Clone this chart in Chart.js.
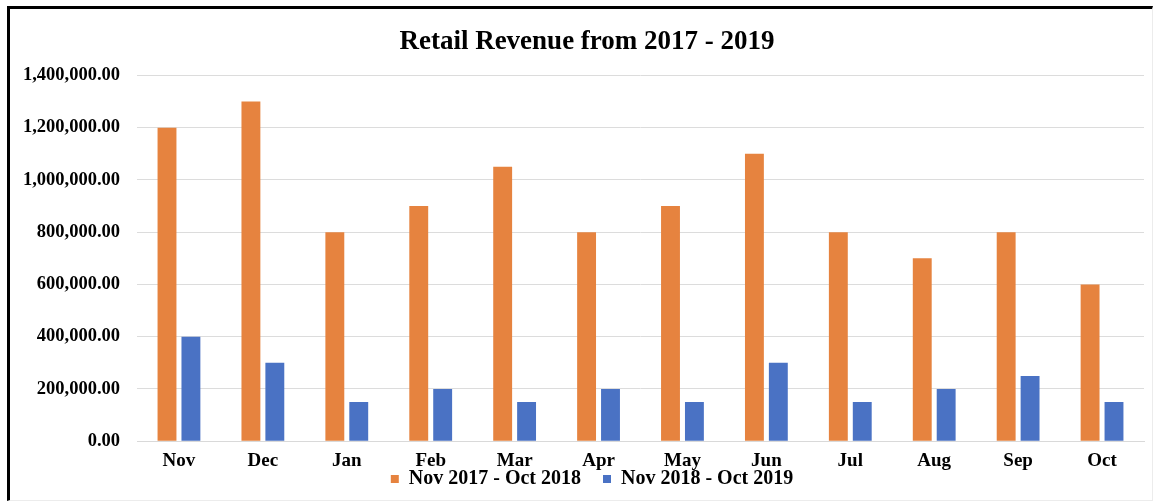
<!DOCTYPE html>
<html>
<head>
<meta charset="utf-8">
<script src="https://cdn.jsdelivr.net/npm/chart.js@4"></script>
<style>
  html, body { margin: 0; padding: 0; background: #fff; overflow: hidden; }
  .frame {
    position: absolute; left: 7px; top: 6px; width: 1142px; height: 491px;
    border-top: 3px solid #000; border-left: 3px solid #000;
    border-right: 1px solid #ececec; border-bottom: 1px solid #ececec;
  }
  .wrap { position: absolute; left: 10px; top: 9px; width: 1149px; height: 488px; }
</style>
</head>
<body>
<div class="frame"></div>
<div class="wrap"><canvas class="retail-revenue"></canvas></div>
<script>
const ctx = document.querySelector(".retail-revenue").getContext("2d");

const MONTHS = ["Nov", "Dec", "Jan", "Feb", "Mar", "Apr", "May", "Jun", "Jul", "Aug", "Sep", "Oct"];
const REVENUE_2017_2018 = [1200000, 1300000, 800000, 900000, 1050000, 800000, 900000, 1100000, 800000, 700000, 800000, 600000];
const REVENUE_2018_2019 = [400000, 300000, 150000, 200000, 150000, 200000, 150000, 300000, 150000, 200000, 250000, 150000];
const Y_TICKS = [0, 200000, 400000, 600000, 800000, 1000000, 1200000, 1400000];

const FONT = "'Liberation Serif', 'Times New Roman', serif";
// legend sits tight under the month labels, so let it overlap the axis box a bit
const LEGEND_OVERLAP = 27;
const LEGEND_DROP = 2;
// title and legend are centred a little right of the canvas middle
const TITLE_SHIFT = 5;
const LEGEND_SHIFT = 10;

function formatMoney(value) {
  return value.toLocaleString("en-US", { minimumFractionDigits: 2, maximumFractionDigits: 2 });
}

const tightLegend = {
  id: "tightLegend",
  afterInit(chart) {
    const legend = chart.legend;
    const fit = legend.fit.bind(legend);
    legend.fit = function () {
      fit();
      this.height -= LEGEND_OVERLAP;
    };
  },
  afterLayout(chart) {
    chart.legend.top -= LEGEND_OVERLAP - LEGEND_DROP;
    chart.legend.left += LEGEND_SHIFT;
    chart.legend.right += LEGEND_SHIFT;
    chart.titleBlock.left += TITLE_SHIFT;
    chart.titleBlock.right += TITLE_SHIFT;
  },
};

new Chart(ctx, {
  type: "bar",
  data: {
    labels: MONTHS,
    datasets: [
      {
        label: "Nov 2017 - Oct 2018",
        data: REVENUE_2017_2018,
        backgroundColor: "#E6833F",
        categoryPercentage: 0.57,
        barPercentage: 0.79,
      },
      {
        label: "Nov 2018 - Oct 2019",
        data: REVENUE_2018_2019,
        backgroundColor: "#4A72C4",
        categoryPercentage: 0.57,
        barPercentage: 0.79,
      },
    ],
  },
  plugins: [tightLegend],
  options: {
    responsive: true,
    maintainAspectRatio: false,
    animation: false,
    layout: { padding: { left: 10, right: 15, top: 0, bottom: 0 } },
    plugins: {
      title: {
        display: true,
        text: "Retail Revenue from 2017 - 2019",
        color: "#000",
        font: { family: FONT, size: 27, weight: "bold" },
        padding: { top: 17, bottom: 17 },
      },
      legend: {
        position: "bottom",
        labels: {
          color: "#000",
          font: { family: FONT, size: 20, weight: "bold", lineHeight: 1 },
          boxWidth: 8,
          boxHeight: 8,
          padding: 22,
        },
      },
      tooltip: { enabled: false },
    },
    scales: {
      x: {
        grid: { display: false },
        border: { color: "#d9d9d9" },
        ticks: {
          color: "#000",
          font: { family: FONT, size: 19, weight: "bold" },
          padding: 0,
        },
      },
      y: {
        min: 0,
        max: 1400000,
        afterBuildTicks: (scale) => {
          scale.ticks = Y_TICKS.map((v) => ({ value: v }));
        },
        afterFit: (scale) => {
          scale.width = 117;
        },
        grid: { color: "#dcdcdc", drawTicks: false },
        border: { display: false },
        ticks: {
          color: "#000",
          font: { family: FONT, size: 18.5, weight: "bold" },
          padding: 17,
          callback: (value) => formatMoney(value),
        },
      },
    },
  },
});
</script>
</body>
</html>
